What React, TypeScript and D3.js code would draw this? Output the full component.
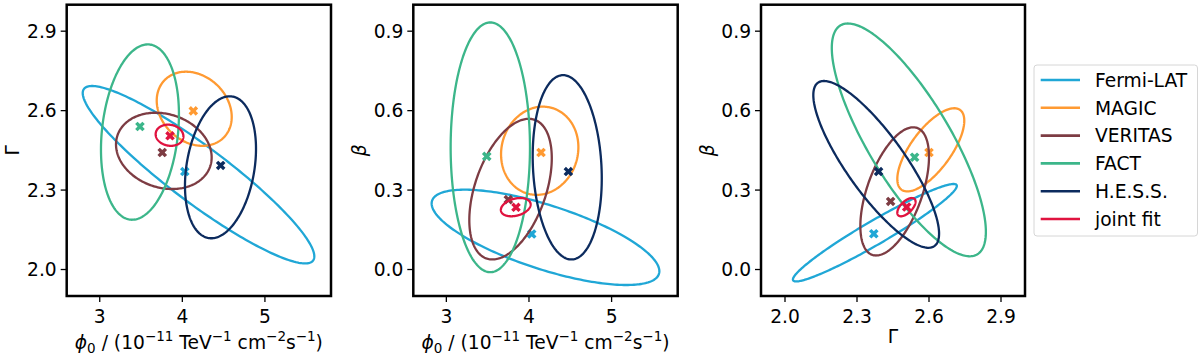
import React from "react";
import * as d3 from "d3";

// ---------- data ----------
const instruments = ["Fermi-LAT", "MAGIC", "VERITAS", "FACT", "H.E.S.S.", "joint fit"];
const instrumentColors = ["#20a7d6", "#ff9a32", "#7d3c43", "#3cb68a", "#0c2b5e", "#e0133f"];

// ellipse: [centre x, half-width x, centre y, half-height y, correlation]
const phiGammaEllipses: number[][] = [
  [4.196, 1.402, 2.358, 0.335, -0.92],
  [4.144, 0.454, 2.607, 0.14, -0.22],
  [3.776, 0.579, 2.448, 0.144, -0.17],
  [3.487, 0.472, 2.519, 0.331, 0.2],
  [4.462, 0.43, 2.386, 0.268, 0.26],
  [3.845, 0.168, 2.507, 0.04, -0.1],
];
const phiGammaBest: number[][] = [
  [4.03, 2.37], [4.133, 2.599], [3.757, 2.442], [3.487, 2.54], [4.464, 2.393], [3.851, 2.505],
];

const phiBetaEllipses: number[][] = [
  [4.2, 1.378, 0.1215, 0.18, -0.71],
  [4.13, 0.468, 0.4485, 0.1665, 0.08],
  [3.777, 0.499, 0.3035, 0.2655, 0.44],
  [3.532, 0.48, 0.4615, 0.4715, 0.0],
  [4.463, 0.418, 0.386, 0.348, -0.12],
  [3.84, 0.18, 0.2355, 0.0345, 0.3],
];
const phiBetaBest: number[][] = [
  [4.033, 0.134], [4.146, 0.442], [3.75, 0.264], [3.489, 0.427], [4.477, 0.37], [3.843, 0.235],
];

const gammaBetaEllipses: number[][] = [
  [2.3745, 0.3415, 0.139, 0.184, 0.96],
  [2.6075, 0.1395, 0.452, 0.157, 0.7],
  [2.457, 0.143, 0.295, 0.242, 0.54],
  [2.516, 0.321, 0.4895, 0.4395, -0.79],
  [2.38, 0.262, 0.397, 0.315, -0.83],
  [2.506, 0.038, 0.2355, 0.0345, 0.6],
];
const gammaBetaBest: number[][] = [
  [2.37, 0.135], [2.6, 0.442], [2.44, 0.257], [2.54, 0.424], [2.39, 0.37], [2.507, 0.236],
];

const phiDomain = [2.6, 5.8];
const gammaDomain = [1.9, 3.0];
const betaDomain = [-0.1, 1.0];
const phiTicks = [3, 4, 5];
const gammaTicks = [2.0, 2.3, 2.6, 2.9];
const betaTicks = [0.0, 0.3, 0.6, 0.9];

// ---------- layout ----------
const W = 1200;
const H = 357;
const TOP = 4.7;
const BOTTOM = 296;
const FONT = "'DejaVu Sans', sans-serif";
const FS = 18.67;

type PanelProps = {
  left: number;
  right: number;
  xDomain: number[];
  yDomain: number[];
  xTicks: number[];
  yTicks: number[];
  xFmt: (v: number) => string;
  yFmt: (v: number) => string;
  ellipses: number[][];
  best: number[][];
  xLabel: React.ReactNode;
  yLabel: React.ReactNode;
};

function ellipsePoints(e: number[]): [number, number][] {
  const [cx, a, cy, b, rho] = e;
  const s = Math.sqrt(1 - rho * rho);
  const pts: [number, number][] = [];
  const n = 240;
  for (let i = 0; i < n; i++) {
    const t = (i / n) * Math.PI * 2;
    pts.push([cx + a * Math.cos(t), cy + b * (rho * Math.cos(t) + s * Math.sin(t))]);
  }
  return pts;
}

function Panel(p: PanelProps) {
  const x = d3.scaleLinear().domain(p.xDomain).range([p.left, p.right]);
  const y = d3.scaleLinear().domain(p.yDomain).range([BOTTOM, TOP]);
  const line = d3
    .line<[number, number]>()
    .x((d) => x(d[0]))
    .y((d) => y(d[1]))
    .curve(d3.curveLinearClosed);
  const marker = d3.symbol().type(d3.symbolCross).size(58)();
  const cxm = (p.left + p.right) / 2;
  const cym = (TOP + BOTTOM) / 2;
  return (
    <g>
      <defs>
        <clipPath id={`clip${Math.round(p.left)}`}>
          <rect x={p.left} y={TOP} width={p.right - p.left} height={BOTTOM - TOP} />
        </clipPath>
      </defs>
      <g clipPath={`url(#clip${Math.round(p.left)})`}>
        {p.ellipses.map((e, i) => (
          <g key={i}>
            <path d={line(ellipsePoints(e)) || ""} fill="none" stroke={instrumentColors[i]} strokeWidth={2.3} />
            <path
              d={marker || ""}
              transform={`translate(${x(p.best[i][0])},${y(p.best[i][1])}) rotate(45)`}
              fill={instrumentColors[i]}
            />
          </g>
        ))}
      </g>
      <rect x={p.left} y={TOP} width={p.right - p.left} height={BOTTOM - TOP} fill="none" stroke="#000" strokeWidth={2.5} />
      {p.xTicks.map((t) => (
        <g key={"x" + t}>
          <line x1={x(t)} x2={x(t)} y1={BOTTOM} y2={BOTTOM + 6} stroke="#000" strokeWidth={1.3} />
          <text x={x(t)} y={323} textAnchor="middle" fontFamily={FONT} fontSize={FS}>
            {p.xFmt(t)}
          </text>
        </g>
      ))}
      {p.yTicks.map((t) => (
        <g key={"y" + t}>
          <line x1={p.left - 6} x2={p.left} y1={y(t)} y2={y(t)} stroke="#000" strokeWidth={1.3} />
          <text x={p.left - 10} y={y(t) + 6.8} textAnchor="end" fontFamily={FONT} fontSize={FS}>
            {p.yFmt(t)}
          </text>
        </g>
      ))}
      <g transform={`translate(${cxm},0)`}>{p.xLabel}</g>
      <g transform={`translate(${p.left - 48},${cym}) rotate(-90)`}>{p.yLabel}</g>
    </g>
  );
}

function FluxLabel() {
  return (
    <text x={0} y={349} textAnchor="middle" fontFamily={FONT} fontSize={FS}>
      <tspan fontStyle="italic">ϕ</tspan>
      <tspan fontSize={13.5} dy={4}>0</tspan>
      <tspan dy={-4}>{" / (10"}</tspan>
      <tspan fontSize={13.5} dy={-8}>−11</tspan>
      <tspan dy={8}>{" TeV"}</tspan>
      <tspan fontSize={13.5} dy={-8}>−1</tspan>
      <tspan dy={8}>{" cm"}</tspan>
      <tspan fontSize={13.5} dy={-8}>−2</tspan>
      <tspan dy={8}>s</tspan>
      <tspan fontSize={13.5} dy={-8}>−1</tspan>
      <tspan dy={8}>)</tspan>
    </text>
  );
}

function GammaX() {
  return (
    <text x={0} y={343} textAnchor="middle" fontFamily={FONT} fontSize={FS}>
      Γ
    </text>
  );
}
function GammaY() {
  return (
    <text x={0} y={0} textAnchor="middle" fontFamily={FONT} fontSize={FS}>
      Γ
    </text>
  );
}
function BetaY() {
  return (
    <text x={0} y={1} textAnchor="middle" fontFamily={FONT} fontSize={FS} fontStyle="italic">
      β
    </text>
  );
}

export default function App() {
  const fmt0 = (v: number) => d3.format("d")(v);
  const fmt1 = (v: number) => d3.format(".1f")(v);
  const legendY0 = 80;
  const legendStep = 27.8;
  return (
    <div style={{ position: "absolute", left: 0, top: 0 }}>
      <svg width={W} height={H} viewBox={`0 0 ${W} ${H}`} style={{ display: "block", background: "#fff" }}>
        <Panel
          left={66.7}
          right={331}
          xDomain={phiDomain}
          yDomain={gammaDomain}
          xTicks={phiTicks}
          yTicks={gammaTicks}
          xFmt={fmt0}
          yFmt={fmt1}
          ellipses={phiGammaEllipses}
          best={phiGammaBest}
          xLabel={<FluxLabel />}
          yLabel={<GammaY />}
        />
        <Panel
          left={413.3}
          right={677.7}
          xDomain={phiDomain}
          yDomain={betaDomain}
          xTicks={phiTicks}
          yTicks={betaTicks}
          xFmt={fmt0}
          yFmt={fmt1}
          ellipses={phiBetaEllipses}
          best={phiBetaBest}
          xLabel={<FluxLabel />}
          yLabel={<BetaY />}
        />
        <Panel
          left={761}
          right={1025}
          xDomain={gammaDomain}
          yDomain={betaDomain}
          xTicks={gammaTicks}
          yTicks={betaTicks}
          xFmt={fmt1}
          yFmt={fmt1}
          ellipses={gammaBetaEllipses}
          best={gammaBetaBest}
          xLabel={<GammaX />}
          yLabel={<BetaY />}
        />
        <rect x={1034} y={65} width={163.5} height={171} rx={3} fill="#fff" fillOpacity={0.8} stroke="#d6d6d6" strokeWidth={1} />
        {instruments.map((name, i) => (
          <g key={name}>
            <line
              x1={1040.7}
              x2={1080}
              y1={legendY0 + i * legendStep}
              y2={legendY0 + i * legendStep}
              stroke={instrumentColors[i]}
              strokeWidth={2.6}
            />
            <text x={1095} y={legendY0 + i * legendStep + 6.8} fontFamily={FONT} fontSize={FS}>
              {name}
            </text>
          </g>
        ))}
      </svg>
    </div>
  );
}
